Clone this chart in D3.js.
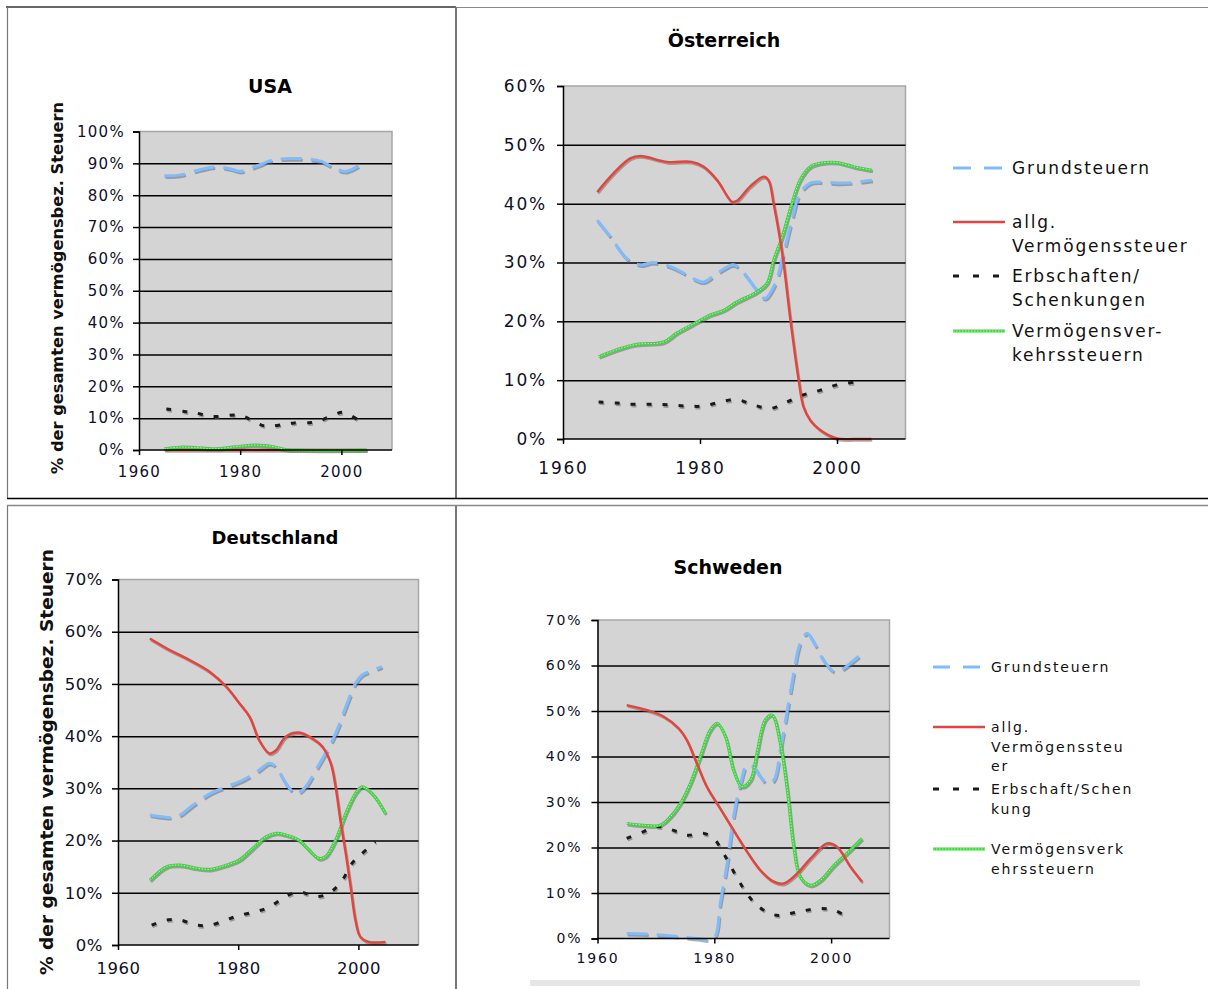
<!DOCTYPE html>
<html><head><meta charset="utf-8">
<script src="https://cdn.jsdelivr.net/npm/d3@7"></script>
<style>body{margin:0;background:#fff} svg{display:block}</style>
</head><body><svg id="c" width="1208" height="989"></svg>
<script>
// ---------------- DATA ----------------
const xTickYears = [1960, 1980, 2000];
const seriesNames = ["Grundsteuern", "allg. Vermögenssteuer", "Erbschaften/Schenkungen", "Vermögensverkehrssteuern"];
const legendAT = [["Grundsteuern"], ["allg.", "Vermögenssteuer"], ["Erbschaften/", "Schenkungen"], ["Vermögensver-", "kehrssteuern"]];
const legendSE = [["Grundsteuern"], ["allg.", "Vermögenssteu", "er"], ["Erbschaft/Schen", "kung"], ["Vermögensverk", "ehrssteuern"]];
const titles = ["USA", "Österreich", "Deutschland", "Schweden"];
const yAxisTitle = "% der gesamten vermögensbez. Steuern";

// USA
const usaGrund = [[1965,86.1],[1968,86.3],[1972,88],[1975,88.9],[1978,88.3],[1980,87.5],[1983,89],[1986.6,91.1],[1990.5,91.5],[1993,91.4],[1996,90.6],[1999,88.2],[2001,87.5],[2004.6,90.5]];
const usaAllg = [[1965,0],[1975,0],[1985,0],[1995,0],[2005,0]];
const usaErb = [[1965.4,12.9],[1969,12.1],[1971,11.7],[1974.6,10.5],[1979,11],[1980.5,10.7],[1983.6,8.2],[1985.5,7.4],[1989,8.2],[1990.7,8.5],[1994,8.6],[1995.8,9.2],[1998.8,11.3],[2000.4,11.8],[2003.8,8.9]];
const usaVerkehr = [[1965,0.4],[1968,0.9],[1971,0.8],[1975,0.4],[1979,1.0],[1982,1.5],[1985,1.4],[1987,0.9],[1989,0.2],[1992,0],[2005,0]];

// Österreich
const atGrund = [[1965,37.2],[1966.9,34.4],[1969.3,30.7],[1971.3,29.6],[1973.2,30],[1975.7,29.3],[1978.1,27.9],[1980.5,26.7],[1982.5,28.2],[1984.9,29.6],[1986.4,28.2],[1988.3,25.3],[1989.5,23.9],[1991,26.5],[1992.2,31.6],[1993.4,37.2],[1994.6,41.8],[1996.1,43.5],[1997.6,43.7],[2000,43.5],[2002.4,43.6],[2005.1,44]];
const atAllg = [[1965,42],[1967.4,45.2],[1969.8,47.7],[1971.3,48.1],[1975.2,47.1],[1978.8,47.1],[1980.5,46.3],[1982.5,44],[1984.7,40.3],[1985.4,40.5],[1987.3,42.9],[1989.3,44.6],[1990,44],[1990.75,40],[1992,31.6],[1993.2,20.2],[1994.4,10],[1995.1,5.5],[1996.1,3.2],[1997.6,1.5],[2000,0.1],[2002.5,0],[2005,0]];
const atErb = [[1965.2,6.3],[1967.9,6.1],[1970.3,5.9],[1973,5.9],[1975.4,5.8],[1978.1,5.6],[1980.5,5.6],[1983,6.3],[1985.4,6.7],[1987.8,5.8],[1990.3,5.2],[1992.7,6.3],[1995.1,7.5],[1997.6,8.3],[2000,9.2],[2002.9,9.7]];
const atVerkehr = [[1965.2,14],[1968.4,15.4],[1970.8,16.1],[1974.7,16.5],[1976.6,18],[1979.6,19.9],[1981.5,21.1],[1983.5,21.9],[1985.4,23.3],[1988.3,25],[1989.8,26.5],[1990.75,30.4],[1992,34.4],[1993.4,40],[1994.6,44],[1996.1,46.3],[1997.6,46.9],[2000,47],[2002.4,46.3],[2005.1,45.7]];

// Deutschland
const deGrund = [[1965.3,24.9],[1967,24.6],[1969.8,24.6],[1972.5,26.8],[1975.3,29],[1978,30.3],[1980.8,31.6],[1983.5,33.5],[1985.2,34.8],[1986.3,34.1],[1987.9,31],[1989.6,29],[1991.2,30.3],[1992.9,33.5],[1994.5,36.7],[1996.2,40.5],[1997.9,45.6],[1999.5,50.1],[2000.6,51.7],[2002.3,52.6],[2003.9,53.3]];
const deAllg = [[1965.3,58.7],[1968.6,56.5],[1971.4,54.9],[1975.3,52.3],[1978,49.5],[1980.2,46.3],[1981.9,43.7],[1983.5,39.2],[1985.2,36.7],[1986.3,37.3],[1987.9,39.9],[1990.1,40.7],[1992.3,39.6],[1994,38],[1995.4,34.8],[1996.2,30.3],[1997,23.9],[1997.9,17.5],[1998.7,11.2],[1999.5,4.8],[2000.3,1.6],[2001.7,0.6],[2004.5,0.6]];
const deErb = [[1965.6,3.8],[1968.1,4.8],[1970.3,4.8],[1973.1,3.8],[1975.3,3.8],[1978,4.8],[1980.2,5.7],[1983,6.4],[1985.2,7.3],[1987.9,9.3],[1990.1,10.2],[1992.9,9.3],[1995.1,9.9],[1997.3,12.4],[1998.9,15.6],[2000.3,17.2],[2002.8,19.8]];
const deVerkehr = [[1965.3,12.4],[1968.1,15],[1970.3,15.3],[1973.1,14.7],[1975.3,14.5],[1978,15.3],[1980.2,16.3],[1982.4,18.5],[1984.6,20.7],[1986.3,21.4],[1987.9,21.1],[1990.1,20.1],[1991.8,18.2],[1993.4,16.6],[1994.5,16.9],[1996.2,20.1],[1997.9,25.2],[1999.5,29],[2000.6,30.3],[2002.3,29],[2004.5,25.2]];

// Schweden
const seGrund = [[1965,1.1],[1968.5,1],[1971.3,0.7],[1974.2,0.4],[1977,0],[1979.9,0],[1981,7.7],[1982.2,16.5],[1983.3,26.8],[1984.5,34.1],[1985.6,38.1],[1986.7,37.8],[1987.9,35.6],[1989,34.1],[1990.2,34.8],[1991.3,41.4],[1992.5,50.2],[1993.6,58.3],[1994.7,64.9],[1995.9,67.1],[1997,65.2],[1998.7,61.2],[2000.5,58.7],[2002.2,59.4],[2003.3,60.5],[2005,62.3]];
const seAllg = [[1965,51.3],[1968.5,50.2],[1971.3,48.8],[1973.9,46.2],[1975.3,43.6],[1977,38.5],[1978.7,33.4],[1981,28.6],[1983.3,23.8],[1985.6,19.1],[1987.9,15],[1990.2,12.5],[1991.9,12.1],[1994.2,14.3],[1996.5,17.6],[1999.3,20.9],[2001,20.2],[2003.3,15.8],[2005.3,12.5]];
const seErb = [[1965,22],[1967.9,23.5],[1970.2,24.6],[1973.6,23.5],[1975.3,22.7],[1978.2,23.1],[1979.9,22],[1981.6,18.7],[1983.3,14.7],[1985,11],[1986.7,8.1],[1988.5,6.2],[1990.7,5.1],[1993,5.5],[1995.3,6.1],[1998.2,6.6],[2000.5,6.2],[2003.3,4.4]];
const seVerkehr = [[1965,25.3],[1967.9,24.9],[1970.7,24.9],[1972.5,26.8],[1974.2,29.7],[1975.9,34.1],[1977.6,40],[1979.3,45.8],[1980.5,47.3],[1981.9,44.4],[1983.3,37],[1984.7,33.4],[1986.2,34.8],[1987.3,40.7],[1988.7,48],[1989.9,49.1],[1991.3,42.9],[1992.5,32.6],[1993.6,20.2],[1994.7,13.6],[1996.5,11.7],[1998.2,12.8],[2000.5,16.1],[2002.7,18.7],[2005.3,22]];

// ---------------- DRAWING ----------------
const svg = d3.select("#c");
const FONT = "'DejaVu Sans', Verdana, sans-serif";
const styles = {
  grund: {color:"#7fbcff", width:3, dash:"21,9"},
  allg: {color:"#e5433b", width:2.4, dash:null},
  erb: {color:"#1a1a1a", width:3, dash:"5,11"},
  verkehr: {color:"#3fd53f", width:3, dash:null, inner:"#b6f3b6"}
};

// table frame
const frame = svg.append("g").attr("fill","none");
frame.append("line").attr("x1",6).attr("x2",456).attr("y1",7).attr("y2",7).attr("stroke","#666").attr("stroke-width",2);
frame.append("line").attr("x1",456).attr("x2",1208).attr("y1",7.5).attr("y2",7.5).attr("stroke","#888").attr("stroke-width",1);
frame.append("line").attr("x1",7.5).attr("x2",7.5).attr("y1",7).attr("y2",499).attr("stroke","#777").attr("stroke-width",1.2);
frame.append("line").attr("x1",7.5).attr("x2",7.5).attr("y1",505).attr("y2",989).attr("stroke","#777").attr("stroke-width",1.2);
frame.append("line").attr("x1",456).attr("x2",456).attr("y1",7).attr("y2",499).attr("stroke","#777").attr("stroke-width",2);
frame.append("line").attr("x1",456).attr("x2",456).attr("y1",505).attr("y2",989).attr("stroke","#777").attr("stroke-width",2);
frame.append("line").attr("x1",7).attr("x2",1208).attr("y1",498.5).attr("y2",498.5).attr("stroke","#000").attr("stroke-width",1.5);
frame.append("line").attr("x1",7).attr("x2",1208).attr("y1",505.5).attr("y2",505.5).attr("stroke","#888").attr("stroke-width",1.5);
svg.append("rect").attr("x",530).attr("y",980).attr("width",610).attr("height",6).attr("fill","#e6e6e6");

function drawPanel(o) {
  const g = svg.append("g");
  const x = d3.scaleLinear().domain([1960, 2010]).range([o.x0, o.x1]);
  const y = d3.scaleLinear().domain([0, o.ymax]).range([o.y1, o.y0]);
  g.append("rect").attr("x",o.x0).attr("y",o.y0).attr("width",o.x1-o.x0).attr("height",o.y1-o.y0).attr("fill","#d4d4d4");
  g.append("path").attr("d",`M${o.x0},${o.y0}H${o.x1}V${o.y1}`).attr("fill","none").attr("stroke","#a6a6a6").attr("stroke-width",1.5);
  // gridlines
  const grid = g.append("g").attr("transform",`translate(${o.x0},0)`)
    .call(d3.axisLeft(y).tickValues(d3.range(10, o.ymax, 10)).tickSize(-(o.x1-o.x0)).tickFormat(""));
  grid.select(".domain").remove();
  grid.selectAll("line").attr("stroke","#000").attr("stroke-width",1.5);

  // lines
  const line = d3.line().x(d => x(d[0])).y(d => y(d[1])).curve(d3.curveCatmullRom.alpha(0.5));
  const lg = g.append("g").attr("fill","none").attr("stroke-linecap","butt");
  o.series.forEach(s => {
    const st = styles[s.key];
    lg.append("path").datum(s.data).attr("d", line)
      .attr("transform","translate(1,1.6)")
      .attr("stroke","#6a6a6a").attr("stroke-opacity",0.55).attr("stroke-width",st.width)
      .attr("stroke-dasharray", st.dash);
  });
  o.series.forEach(s => {
    const st = styles[s.key];
    lg.append("path").datum(s.data).attr("d", line)
      .attr("stroke", st.color).attr("stroke-width", st.width).attr("stroke-dasharray", st.dash);
    if (st.inner) {
      lg.append("path").datum(s.data).attr("d", line)
        .attr("stroke", st.inner).attr("stroke-width", 1).attr("stroke-dasharray","1.5,1.5");
    }
  });

  // y axis
  const ya = g.append("g").attr("transform",`translate(${o.x0},0)`)
    .call(d3.axisLeft(y).tickValues(d3.range(0, o.ymax + 1, 10)).tickSize(6).tickPadding(o.pad).tickFormat(d => d + "%"));
  ya.select(".domain").attr("stroke","#000").attr("stroke-width",1.5);
  ya.selectAll("line").attr("stroke","#000").attr("stroke-width",1.5);
  ya.selectAll("text").attr("font-family",FONT).attr("font-size",o.fs).attr("letter-spacing",o.ls).attr("fill","#101028");
  // x axis
  const xa = g.append("g").attr("transform",`translate(0,${o.y1})`)
    .call(d3.axisBottom(x).tickValues(xTickYears).tickSize(5).tickPadding(o.xpad).tickFormat(d3.format("d")));
  xa.select(".domain").attr("stroke","#000").attr("stroke-width",1.5).attr("d",`M${o.x0},0H${o.x1}`);
  xa.selectAll("line").attr("stroke","#000").attr("stroke-width",1.5);
  xa.selectAll("text").attr("font-family",FONT).attr("font-size",o.fs).attr("letter-spacing",o.ls).attr("fill","#101028");

  // title
  g.append("text").attr("x",o.tx).attr("y",o.ty).attr("text-anchor","middle")
    .attr("font-family",FONT).attr("font-weight","bold").attr("font-size",o.tfs).text(o.title);

  if (o.ylab) {
    g.append("text").attr("transform",`translate(${o.ylab.x},${o.ylab.cy}) rotate(-90)`)
      .attr("text-anchor","middle").attr("font-family",FONT).attr("font-weight","bold")
      .attr("font-size",o.ylab.fs).attr("textLength",o.ylab.len).attr("lengthAdjust","spacingAndGlyphs")
      .attr("fill","#111").text(yAxisTitle);
  }
  if (o.legend) {
    const L = o.legend;
    const keys = ["grund","allg","erb","verkehr"];
    keys.forEach((k, i) => {
      const st = styles[k];
      const ly = L.ys[i];
      g.append("line").attr("x1",L.x0).attr("x2",L.x1).attr("y1",ly).attr("y2",ly)
        .attr("stroke",st.color).attr("stroke-width",st.width)
        .attr("stroke-dasharray", k === "grund" ? L.gdash : (k === "erb" ? L.edash : null));
      if (st.inner) g.append("line").attr("x1",L.x0).attr("x2",L.x1).attr("y1",ly).attr("y2",ly)
        .attr("stroke",st.inner).attr("stroke-width",1).attr("stroke-dasharray","1.5,1.5");
      L.labels[i].forEach((t, j) => {
        g.append("text").attr("x",L.tx).attr("y",ly + L.dy + j * L.lh)
          .attr("font-family",FONT).attr("font-size",L.fs).attr("letter-spacing",L.ls)
          .attr("fill","#111").text(t);
      });
    });
  }
}

drawPanel({title:titles[0], x0:139, x1:392, y0:131.5, y1:450, ymax:100, fs:15, ls:1.3, pad:8, xpad:11,
  tx:270, ty:93, tfs:19, ylab:{x:63, cy:288, fs:15, len:372},
  series:[{key:"grund",data:usaGrund},{key:"erb",data:usaErb},{key:"allg",data:usaAllg},{key:"verkehr",data:usaVerkehr}]});

drawPanel({title:titles[1], x0:563, x1:905.5, y0:86, y1:439, ymax:60, fs:17, ls:1.8, pad:10, xpad:18,
  tx:724, ty:47, tfs:19,
  legend:{x0:953, x1:1005, tx:1012, fs:17, ls:1.8, lh:24, dy:6, ys:[168,222,276,331], labels:legendAT, gdash:"18,13", edash:"6,14"},
  series:[{key:"grund",data:atGrund},{key:"erb",data:atErb},{key:"verkehr",data:atVerkehr},{key:"allg",data:atAllg}]});

drawPanel({title:titles[2], x0:118, x1:418.5, y0:579.5, y1:945, ymax:70, fs:16.5, ls:0.5, pad:9, xpad:12,
  tx:275, ty:544, tfs:18, ylab:{x:53, cy:762, fs:17, len:426},
  series:[{key:"grund",data:deGrund},{key:"erb",data:deErb},{key:"verkehr",data:deVerkehr},{key:"allg",data:deAllg}]});

drawPanel({title:titles[3], x0:597.5, x1:889.5, y0:620, y1:938.5, ymax:70, fs:14, ls:1.9, pad:9, xpad:10,
  tx:728, ty:574, tfs:19,
  legend:{x0:933, x1:985, tx:991, fs:14, ls:1.9, lh:19.5, dy:5, ys:[667,727,789,849], labels:legendSE, gdash:"17,13", edash:"6,14"},
  series:[{key:"grund",data:seGrund},{key:"erb",data:seErb},{key:"verkehr",data:seVerkehr},{key:"allg",data:seAllg}]});
</script>
</body></html>
